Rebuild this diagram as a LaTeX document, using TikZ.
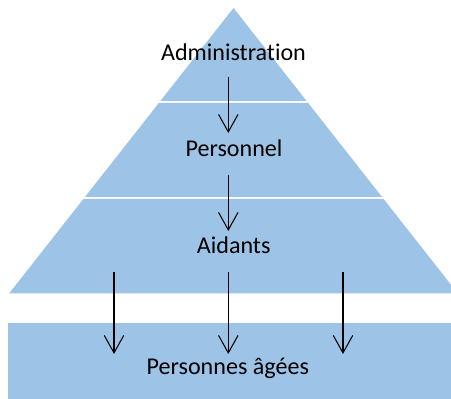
\documentclass[tikz,border=0pt]{standalone}
\usepackage{fontspec}
\setmainfont{Carlito}[Ligatures=NoCommon]
\usetikzlibrary{arrows.meta}

\definecolor{levelblue}{RGB}{157,195,230}

\begin{document}
\begin{tikzpicture}[scale=1,
    band/.style={fill=levelblue},
    lbl/.style={font=\fontsize{13.7}{16}\selectfont, anchor=base, inner sep=0pt},
    arr/.style={line width=0.6pt, -{Straight Barb[length=3.5mm, width=3.9mm, line width=0.6pt]}}]
  % parameters
  \def\apexx{4.67}   % apex of the pyramid
  \def\apexy{7.82}
  \def\slope{0.786}  % half-width per unit of height

  \clip (0,0) rectangle (9.02,7.98);

  % pyramid levels, separated by thin gaps
  \foreach \top/\bot in {7.82/5.96, 5.92/4.04, 4.00/2.11} {
    \pgfmathsetmacro{\wt}{(\apexy-\top)*\slope}
    \pgfmathsetmacro{\wb}{(\apexy-\bot)*\slope}
    \fill[band] (\apexx-\wt,\top) -- (\apexx+\wt,\top)
      -- (\apexx+\wb,\bot) -- (\apexx-\wb,\bot) -- cycle;
  }

  % base level
  \fill[band] (0.16,0) rectangle (9.18,1.514);

  % labels
  \node[lbl] (admin) at (4.67,6.76) {Administration};
  \node[lbl] (staff) at (4.68,4.846) {Personnel};
  \node[lbl] (carers) at (4.674,2.90) {Aidants};
  \node[lbl] (elderly) at (4.556,0.48) {Personnes âgées};

  % arrows between levels
  \coordinate (s1) at (4.566,6.44);  \coordinate (e1) at (4.566,5.32);
  \coordinate (s2) at (4.566,4.48);  \coordinate (e2) at (4.566,3.36);
  \draw[arr] (s1) -- (e1);
  \draw[arr] (s2) -- (e2);
  \foreach \x [count=\k] in {2.28,4.566,6.86} {
    \coordinate (b\k) at (\x,2.546);
    \coordinate (t\k) at (\x,0.90);
    \draw[arr] (b\k) -- (t\k);
  }
\end{tikzpicture}
\end{document}
